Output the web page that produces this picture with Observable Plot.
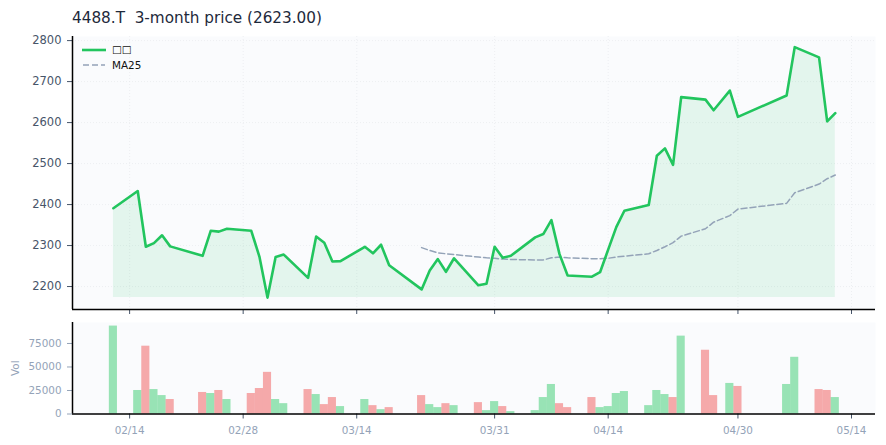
<!DOCTYPE html>
<html><head><meta charset="utf-8">
<script src="https://cdn.jsdelivr.net/npm/d3@7"></script>
<script src="https://cdn.jsdelivr.net/npm/@observablehq/plot@0.6"></script>
<style>
html,body{margin:0;padding:0;background:#fff;overflow:hidden}
body{width:886px;height:445px;position:relative;font-family:"DejaVu Sans",sans-serif}
#title{position:absolute;left:72px;top:9px;font-size:15.25px;line-height:18px;color:#1e293b;white-space:pre}
#top{position:absolute;left:0;top:28px}
#bottom{position:absolute;left:0;top:313px}
#top svg,#bottom svg{display:block}
#legend{position:absolute;left:82px;top:42px;font-size:10.4px;line-height:15.5px;color:#111}
#legend div{display:flex;align-items:center;height:15.5px}
#legend svg{width:24px;height:4px;margin-right:6px}
</style></head><body>
<div id="title">4488.T  3-month price (2623.00)</div>
<div id="top"></div>
<div id="bottom"></div>
<div id="legend">
 <div><svg><line x1="0" x2="24" y1="2" y2="2" stroke="#22c55e" stroke-width="2.6"/></svg>□□</div>
 <div><svg><line x1="1" x2="23" y1="2" y2="2" stroke="#94a3b8" stroke-width="1.5" stroke-dasharray="6,3"/></svg>MA25</div>
</div>
<script>
const dates = ["02-12","02-15","02-16","02-17","02-18","02-19","02-23","02-24","02-25","02-26",
"03-01","03-02","03-03","03-04","03-05","03-08","03-09","03-10","03-11","03-12",
"03-15","03-16","03-17","03-18","03-22","03-23","03-24","03-25","03-26",
"03-29","03-30","03-31","04-01","04-02","04-05","04-06","04-07","04-08","04-09",
"04-12","04-13","04-14","04-15","04-16","04-19","04-20","04-21","04-22","04-23",
"04-26","04-27","04-29","04-30","05-06","05-07","05-10","05-11","05-12"];
const close = [2391,2433,2297,2306,2325,2298,2275,2336,2334,2341,
2336,2273,2173,2272,2278,2221,2322,2307,2261,2262,
2297,2281,2302,2252,2193,2239,2267,2236,2269,
2203,2207,2297,2270,2275,2320,2328,2362,2279,2227,
2224,2235,2290,2345,2385,2399,2519,2537,2497,2662,
2656,2630,2678,2614,2666,2784,2759,2603,2623];
const ma25 = [2295,2288,2282,2280,2278,2272,2270,2269,2267,2266,
2265,2265,2270,2272,2270,2268,2268,2269,2272,2274,
2280,2288,2297,2307,2323,2341,2357,2373,2389,2403,2429,2450,2463,2472];
const volume = [93500,25000,72100,26000,19600,15400,22900,21800,25000,15400,
21800,27100,44300,15400,11000,26000,20700,10000,17500,7900,
15400,8900,4600,6800,19600,10000,6800,11000,8900,
12100,3600,13200,7900,2500,3600,17500,31400,11000,6800,
17500,6800,7900,21800,23900,8900,25000,20700,17500,82800,
67800,19600,32500,29300,31400,60300,26000,25000,17500];
const up = "GGRGGRRGRGRRRGGRGRRGGRGRRGGRGRGGRGGGGRRRGGGGGGGRGRRGRGGRRG";
const tickDays = ["02-14","02-28","03-14","03-31","04-14","04-30","05-14"];
const priceTicks = [2200,2300,2400,2500,2600,2700,2800];
const volTicks = [0,25000,50000,75000];

const GREEN="#22c55e", RED="#ef4444", SLATE="#94a3b8", PANEL="#fafbfd";
const toDate = s => new Date(`2026-${s}T00:00:00Z`);
const label = d => d3.utcFormat("%m/%d")(d);
const plain = d3.format("d");
const xDomain = [new Date(Date.UTC(2026,1,6,23)), new Date(Date.UTC(2026,4,16,23))];
const rows = dates.map((d,i)=>({date:toDate(d),close:close[i],vol:volume[i],dir:up[i]}));
const maRows = ma25.map((v,i)=>({date:toDate(dates[dates.length-ma25.length+i]),ma:v}));
const xt = tickDays.map(toDate);
const HALF = 12*3600*1000;
const yMin=2144, yMax=2810, base=d3.min(close), vMax=97300;

const priceChart = Plot.plot({
  width:886,height:286,marginLeft:72,marginRight:11,marginTop:8,marginBottom:5,
  x:{type:"utc",domain:xDomain,axis:null},
  y:{domain:[yMin,yMax],axis:null},
  style:{background:"transparent",fontFamily:"DejaVu Sans"},
  marks:[
    Plot.frame({fill:PANEL,stroke:"none"}),
    Plot.gridX(xt,{stroke:"#e5e7eb",strokeOpacity:.6,strokeDasharray:"1,2"}),
    Plot.gridY(priceTicks,{stroke:"#e5e7eb",strokeOpacity:.6,strokeDasharray:"1,2"}),
    Plot.areaY(rows,{x:"date",y1:base,y2:"close",fill:GREEN,fillOpacity:.1}),
    Plot.line(maRows,{x:"date",y:"ma",stroke:SLATE,strokeWidth:1.5,strokeDasharray:"6,3"}),
    Plot.line(rows,{x:"date",y:"close",stroke:GREEN,strokeWidth:2.6,curve:"linear"}),
    Plot.axisY(priceTicks,{anchor:"left",tickSize:5,tickPadding:6,fontSize:11.5,color:"#475569",stroke:"#475569",tickFormat:plain,label:null}),
    Plot.axisX(xt,{anchor:"bottom",tickSize:5,text:()=>"",stroke:"#475569",label:null}),
    Plot.ruleX([xDomain[0]],{stroke:"#000",strokeWidth:1.5}),
    Plot.ruleY([yMin],{stroke:"#000",strokeWidth:1.5})
  ]
});
document.getElementById("top").append(priceChart);

const volChart = Plot.plot({
  width:886,height:132,marginLeft:72,marginRight:11,marginTop:9,marginBottom:31.5,
  x:{type:"utc",domain:xDomain,axis:null},
  y:{domain:[0,vMax],axis:null},
  color:{domain:["G","R"],range:[GREEN,RED]},
  style:{background:"transparent",fontFamily:"DejaVu Sans"},
  marks:[
    Plot.frame({fill:PANEL,stroke:"none"}),
    Plot.rectY(rows,{x1:d=>new Date(+d.date-HALF),x2:d=>new Date(+d.date+HALF),y:"vol",fill:"dir",fillOpacity:.45}),
    Plot.axisY(volTicks,{anchor:"left",tickSize:5,tickPadding:6,fontSize:10.4,color:SLATE,stroke:SLATE,tickFormat:plain,label:null}),
    Plot.axisX(xt,{anchor:"bottom",tickSize:5,tickPadding:8,fontSize:10.4,color:SLATE,stroke:"#475569",tickFormat:label,label:null}),
    Plot.text(["Vol"],{frameAnchor:"left",dx:-57,rotate:-90,fontSize:10.4,fill:SLATE,textAnchor:"middle"}),
    Plot.ruleX([xDomain[0]],{stroke:"#000",strokeWidth:1.5}),
    Plot.ruleY([0],{stroke:"#000",strokeWidth:1.5})
  ]
});
document.getElementById("bottom").append(volChart);
</script>
</body></html>
